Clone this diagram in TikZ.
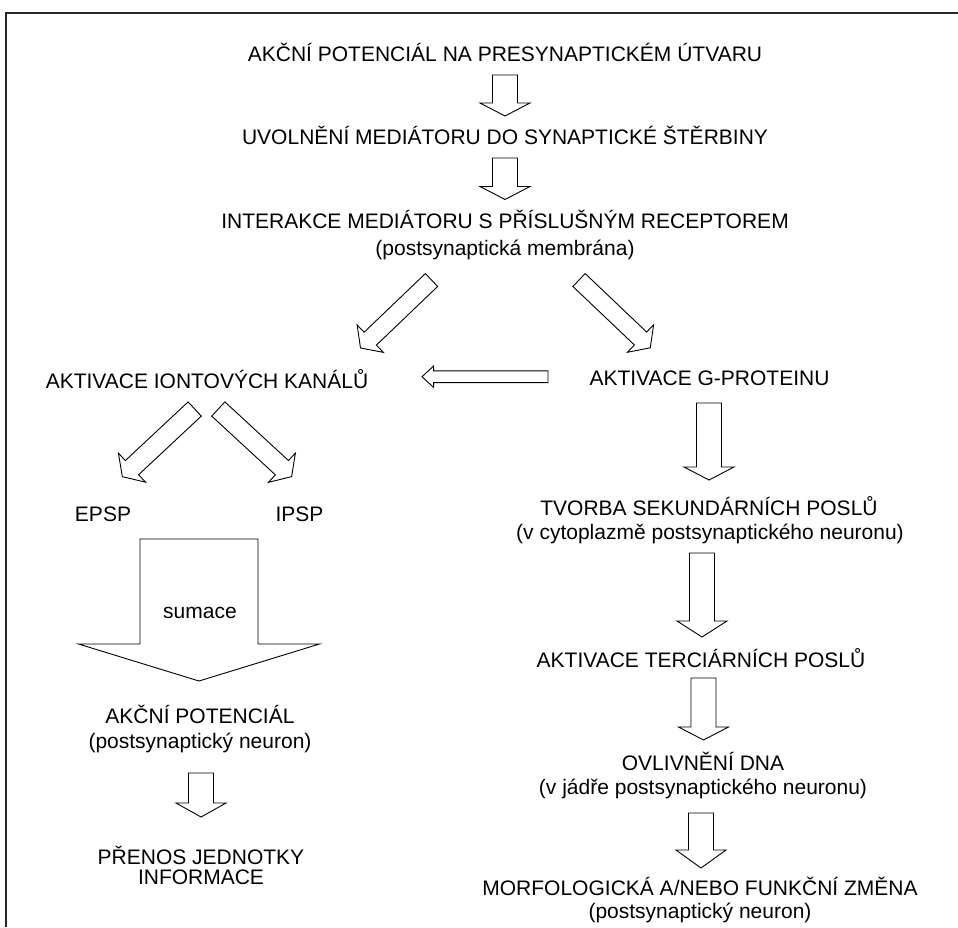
\documentclass[tikz,border=0pt]{standalone}
\usepackage{fontspec}
\setmainfont{Liberation Sans}
\usetikzlibrary{calc}

% block arrow: [style] tail, tip, half shaft, half head, head length
\newcommand{\blockarrow}[6][]{%
  \path let \p1=($(#3)-(#2)$) in \pgfextra{%
    \pgfmathsetmacro\baang{atan2(\y1,\x1)}%
    \pgfmathsetmacro\balen{veclen(\x1,\y1)}%
    \xdef\baang{\baang}\xdef\balen{\balen}};
  \draw[blk,#1,shift={(#2)},rotate=\baang]
    (0,-#4) -- ({\balen-#6},-#4) -- ({\balen-#6},-#5) -- (\balen,0)
    -- ({\balen-#6},#5) -- ({\balen-#6},#4) -- (0,#4) -- cycle;}

\begin{document}
\begin{tikzpicture}[x=1pt, y=-1pt,
  lbl/.style={font=\fontsize{21}{25}\selectfont, inner sep=0pt, anchor=base},
  blk/.style={draw=black, line width=0.9pt, fill=white, line join=miter},
  frame/.style={draw=black!85, line width=1.3pt}]
  \useasboundingbox (0,0) rectangle (958,927);
  \draw[frame] (6,927) -- (6,13) -- (958,13);

  % main column
  \node[lbl] (akce)   at (505,61)  {AKČNÍ POTENCIÁL NA PRESYNAPTICKÉM ÚTVARU};
  \node[lbl] (uvol)   at (505,144) {UVOLNĚNÍ MEDIÁTORU DO SYNAPTICKÉ ŠTĚRBINY};
  \node[lbl] (inter)  at (505,228) {INTERAKCE MEDIÁTORU S PŘÍSLUŠNÝM RECEPTOREM};
  \node[lbl] (intsub) at (505,255) {(postsynaptická membrána)};

  % left branch
  \node[lbl] (ion)   at (207,388)   {AKTIVACE IONTOVÝCH KANÁLŮ};
  \node[lbl] (epsp)  at (103,521.5) {EPSP};
  \node[lbl] (ipsp)  at (299.5,521.5) {IPSP};
  \node[lbl] (ap)    at (200,723)   {AKČNÍ POTENCIÁL};
  \node[lbl] (apsub) at (200,748)   {(postsynaptický neuron)};
  \node[lbl] (pren)  at (201,864)   {PŘENOS JEDNOTKY};
  \node[lbl] (info)  at (201,884)   {INFORMACE};

  % right branch
  \node[lbl] (gpro)  at (709.5,385) {AKTIVACE G-PROTEINU};
  \node[lbl] (tvor)  at (709,515)   {TVORBA SEKUNDÁRNÍCH POSLŮ};
  \node[lbl] (tvsub) at (710,539)   {(v cytoplazmě postsynaptického neuronu)};
  \node[lbl] (terc)  at (701,667)   {AKTIVACE TERCIÁRNÍCH POSLŮ};
  \node[lbl] (ovl)   at (703,770)   {OVLIVNĚNÍ DNA};
  \node[lbl] (ovsub) at (703,794)   {(v jádře postsynaptického neuronu)};
  \node[lbl] (morf)  at (700,895)   {MORFOLOGICKÁ A/NEBO FUNKČNÍ ZMĚNA};
  \node[lbl] (mfsub) at (700,918)   {(postsynaptický neuron)};

  % arrow ends
  \coordinate (a1t) at (505,75);      \coordinate (a1h) at (505,116);
  \coordinate (a2t) at (505,158);     \coordinate (a2h) at (505,199.5);
  \coordinate (d1t) at (431.5,280);   \coordinate (d1h) at (360.5,348);
  \coordinate (d2t) at (579,280);     \coordinate (d2h) at (650.5,348);
  \coordinate (h1t) at (548,376.7);   \coordinate (h1h) at (422,376.7);
  \coordinate (d3t) at (194.7,409);   \coordinate (d3h) at (122.3,476.7);
  \coordinate (d4t) at (218.3,409);   \coordinate (d4h) at (291.7,476.7);
  \coordinate (sumt) at (199,539);    \coordinate (sumh) at (199,681);
  \coordinate (l3t) at (201,773);     \coordinate (l3h) at (201,817);
  \coordinate (r1t) at (709,403);     \coordinate (r1h) at (709,480);
  \coordinate (r2t) at (702,553);     \coordinate (r2h) at (702,637);
  \coordinate (r3t) at (703.5,678);   \coordinate (r3h) at (703.5,740);
  \coordinate (r4t) at (701,813);     \coordinate (r4h) at (701,868);

  \blockarrow{a1t}{a1h}{12.5}{25}{13}
  \blockarrow{a2t}{a2h}{12.5}{25}{13}
  \blockarrow{d1t}{d1h}{8.9}{19}{13.5}
  \blockarrow{d2t}{d2h}{8.9}{19}{13.5}
  \blockarrow{h1t}{h1h}{5.9}{10.7}{11.6}
  \blockarrow{d3t}{d3h}{9.7}{19.9}{13.2}
  \blockarrow{d4t}{d4h}{9.7}{19.9}{13.2}
  \blockarrow{sumt}{sumh}{59}{120.5}{37}
  \blockarrow{l3t}{l3h}{12.5}{25}{14}
  \blockarrow{r1t}{r1h}{12.5}{25}{13}
  \blockarrow{r2t}{r2h}{12.5}{25}{16}
  \blockarrow{r3t}{r3h}{12.5}{25}{13}
  \blockarrow{r4t}{r4h}{12.5}{25}{18}

  \node[lbl] (sum) at (200,618) {sumace};
\end{tikzpicture}
\end{document}
